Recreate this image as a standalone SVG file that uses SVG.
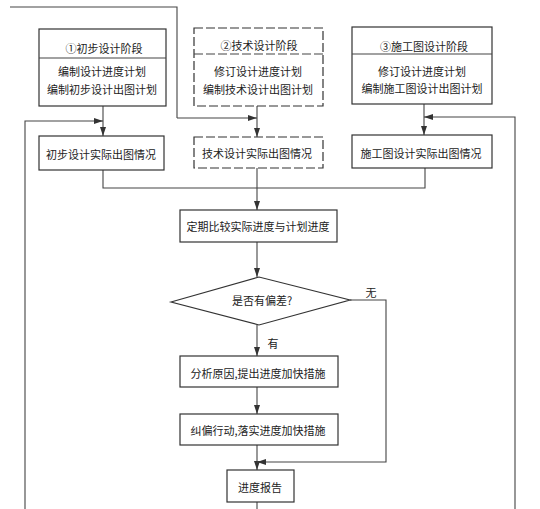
<svg xmlns="http://www.w3.org/2000/svg" width="540" height="509" viewBox="0 0 540 509">
<defs>
<marker id="ah" markerWidth="10" markerHeight="8" refX="9" refY="4" orient="auto" markerUnits="userSpaceOnUse">
<path d="M0,1 L9,4 L0,7 Z" fill="#333"/>
</marker>
<style>
.b{fill:#fff;stroke:#333;stroke-width:1.2}
.d{fill:#fff;stroke:#333;stroke-width:1.2;stroke-dasharray:9,3}
.l{fill:none;stroke:#444;stroke-width:1.1}
.la{fill:none;stroke:#444;stroke-width:1.1;marker-end:url(#ah)}
text{font-family:"Noto Sans CJK SC","Noto Sans CJK JP",sans-serif;font-size:11px;fill:#222;text-anchor:middle;dominant-baseline:central}
</style>
</defs>
<rect width="540" height="509" fill="#fff"/>
<g id="connectors">
<polyline class="l" points="10,7 177,7 177,118"/>
<line class="la" x1="177" y1="118" x2="257" y2="118"/>
<line class="la" x1="103" y1="106" x2="103" y2="136"/>
<polyline class="la" points="25,509 25,121 103,121"/>
<line class="la" x1="257" y1="106" x2="257" y2="137"/>
<line class="la" x1="424" y1="104" x2="424" y2="135"/>
<polyline class="la" points="515,509 515,117 424,117"/>
<polyline class="l" points="103,170 103,188 425,188 425,168"/>
<line class="l" x1="257" y1="168" x2="257" y2="188"/>
<line class="la" x1="257" y1="188" x2="257" y2="210"/>
<line class="la" x1="257" y1="242" x2="257" y2="277"/>
<line class="la" x1="257" y1="325" x2="257" y2="356"/>
<line class="la" x1="257" y1="387" x2="257" y2="414"/>
<line class="la" x1="257" y1="445" x2="257" y2="470"/>
<polyline class="la" points="350,300 386,300 386,462 257,462"/>
<line class="l" x1="257" y1="502" x2="257" y2="509"/>
<text x="371" y="292">无</text>
<text x="273" y="343">有</text>
</g>
<g id="stage1">
<rect class="b" x="39" y="29" width="127" height="77"/>
<line class="l" x1="39" y1="58" x2="166" y2="58"/>
<text x="104" y="48">①初步设计阶段</text>
<text x="102" y="71">编制设计进度计划</text>
<text x="102" y="89">编制初步设计出图计划</text>
</g>
<g id="stage2">
<rect class="d" x="194" y="28" width="129" height="78"/>
<line class="l" x1="194" y1="54" x2="323" y2="54" stroke-dasharray="9,3"/>
<text x="259" y="45">②技术设计阶段</text>
<text x="258" y="71">修订设计进度计划</text>
<text x="258" y="89">编制技术设计出图计划</text>
</g>
<g id="stage3">
<rect class="b" x="352" y="27" width="140" height="77"/>
<line class="l" x1="352" y1="54" x2="492" y2="54"/>
<text x="424" y="46">③施工图设计阶段</text>
<text x="422" y="71">修订设计进度计划</text>
<text x="422" y="88">编制施工图设计出图计划</text>
</g>
<g id="actual1">
<rect class="b" x="39" y="136" width="125" height="34"/>
<text x="101" y="154">初步设计实际出图情况</text>
</g>
<g id="actual2">
<rect class="d" x="194" y="137" width="129" height="31"/>
<text x="257" y="153">技术设计实际出图情况</text>
</g>
<g id="actual3">
<rect class="b" x="352" y="135" width="140" height="33"/>
<text x="421" y="153">施工图设计实际出图情况</text>
</g>
<g id="compare">
<rect class="b" x="180" y="210" width="157" height="32"/>
<text x="258" y="226">定期比较实际进度与计划进度</text>
</g>
<g id="decision">
<polygon class="b" points="171,302 259,277 350,300 259,325"/>
<text x="262" y="300">是否有偏差?</text>
</g>
<g id="analyze">
<rect class="b" x="180" y="356" width="158" height="31"/>
<text x="258" y="373">分析原因,提出进度加快措施</text>
</g>
<g id="correct">
<rect class="b" x="180" y="414" width="158" height="31"/>
<text x="258" y="430">纠偏行动,落实进度加快措施</text>
</g>
<g id="report">
<rect class="b" x="227" y="470" width="67" height="32"/>
<text x="260" y="487">进度报告</text>
</g>
</svg>
